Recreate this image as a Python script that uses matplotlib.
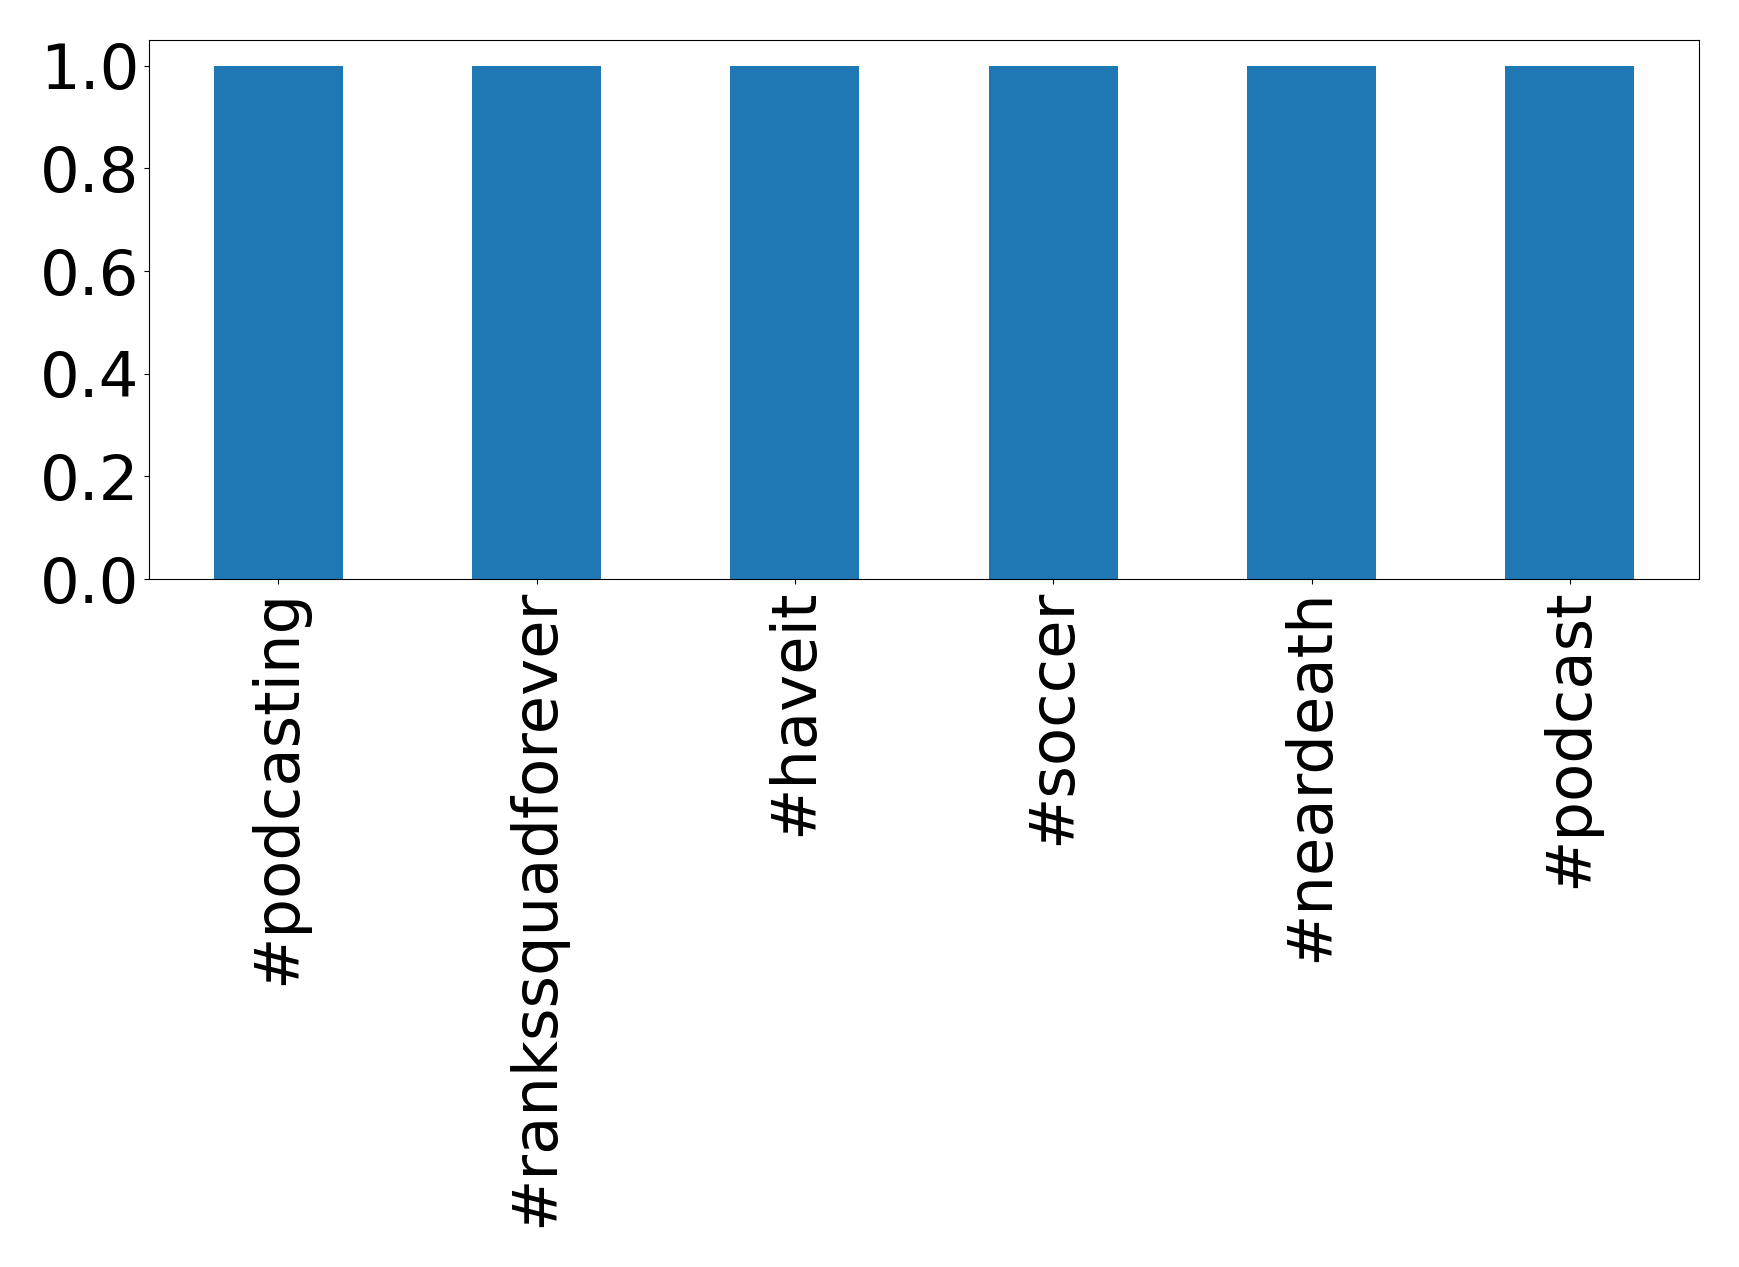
import matplotlib
matplotlib.use("Agg")
import matplotlib.pyplot as plt

categories = ["#podcasting", "#rankssquadforever", "#haveit", "#soccer", "#neardeath", "#podcast"]
values = [1, 1, 1, 1, 1, 1]

W, H = 1739, 1267
fig = plt.figure(figsize=(W / 100, H / 100), dpi=100)
ax = fig.add_axes([149 / W, 1 - 579 / H, (1699 - 149) / W, (579 - 40) / H])
x = range(len(categories))
ax.bar(x, values, width=0.5, color="#1f77b4")
ax.set_xlim(-0.5, len(categories) - 0.5)
ax.set_ylim(0, 1.05)
ax.set_xticks(list(x))
ax.set_xticklabels(categories, rotation=90, fontsize=45)
ax.set_yticks([0, 0.2, 0.4, 0.6, 0.8, 1.0])
ax.set_yticklabels(["0.0", "0.2", "0.4", "0.6", "0.8", "1.0"], fontsize=45)
fig.savefig("out.png", dpi=100)
